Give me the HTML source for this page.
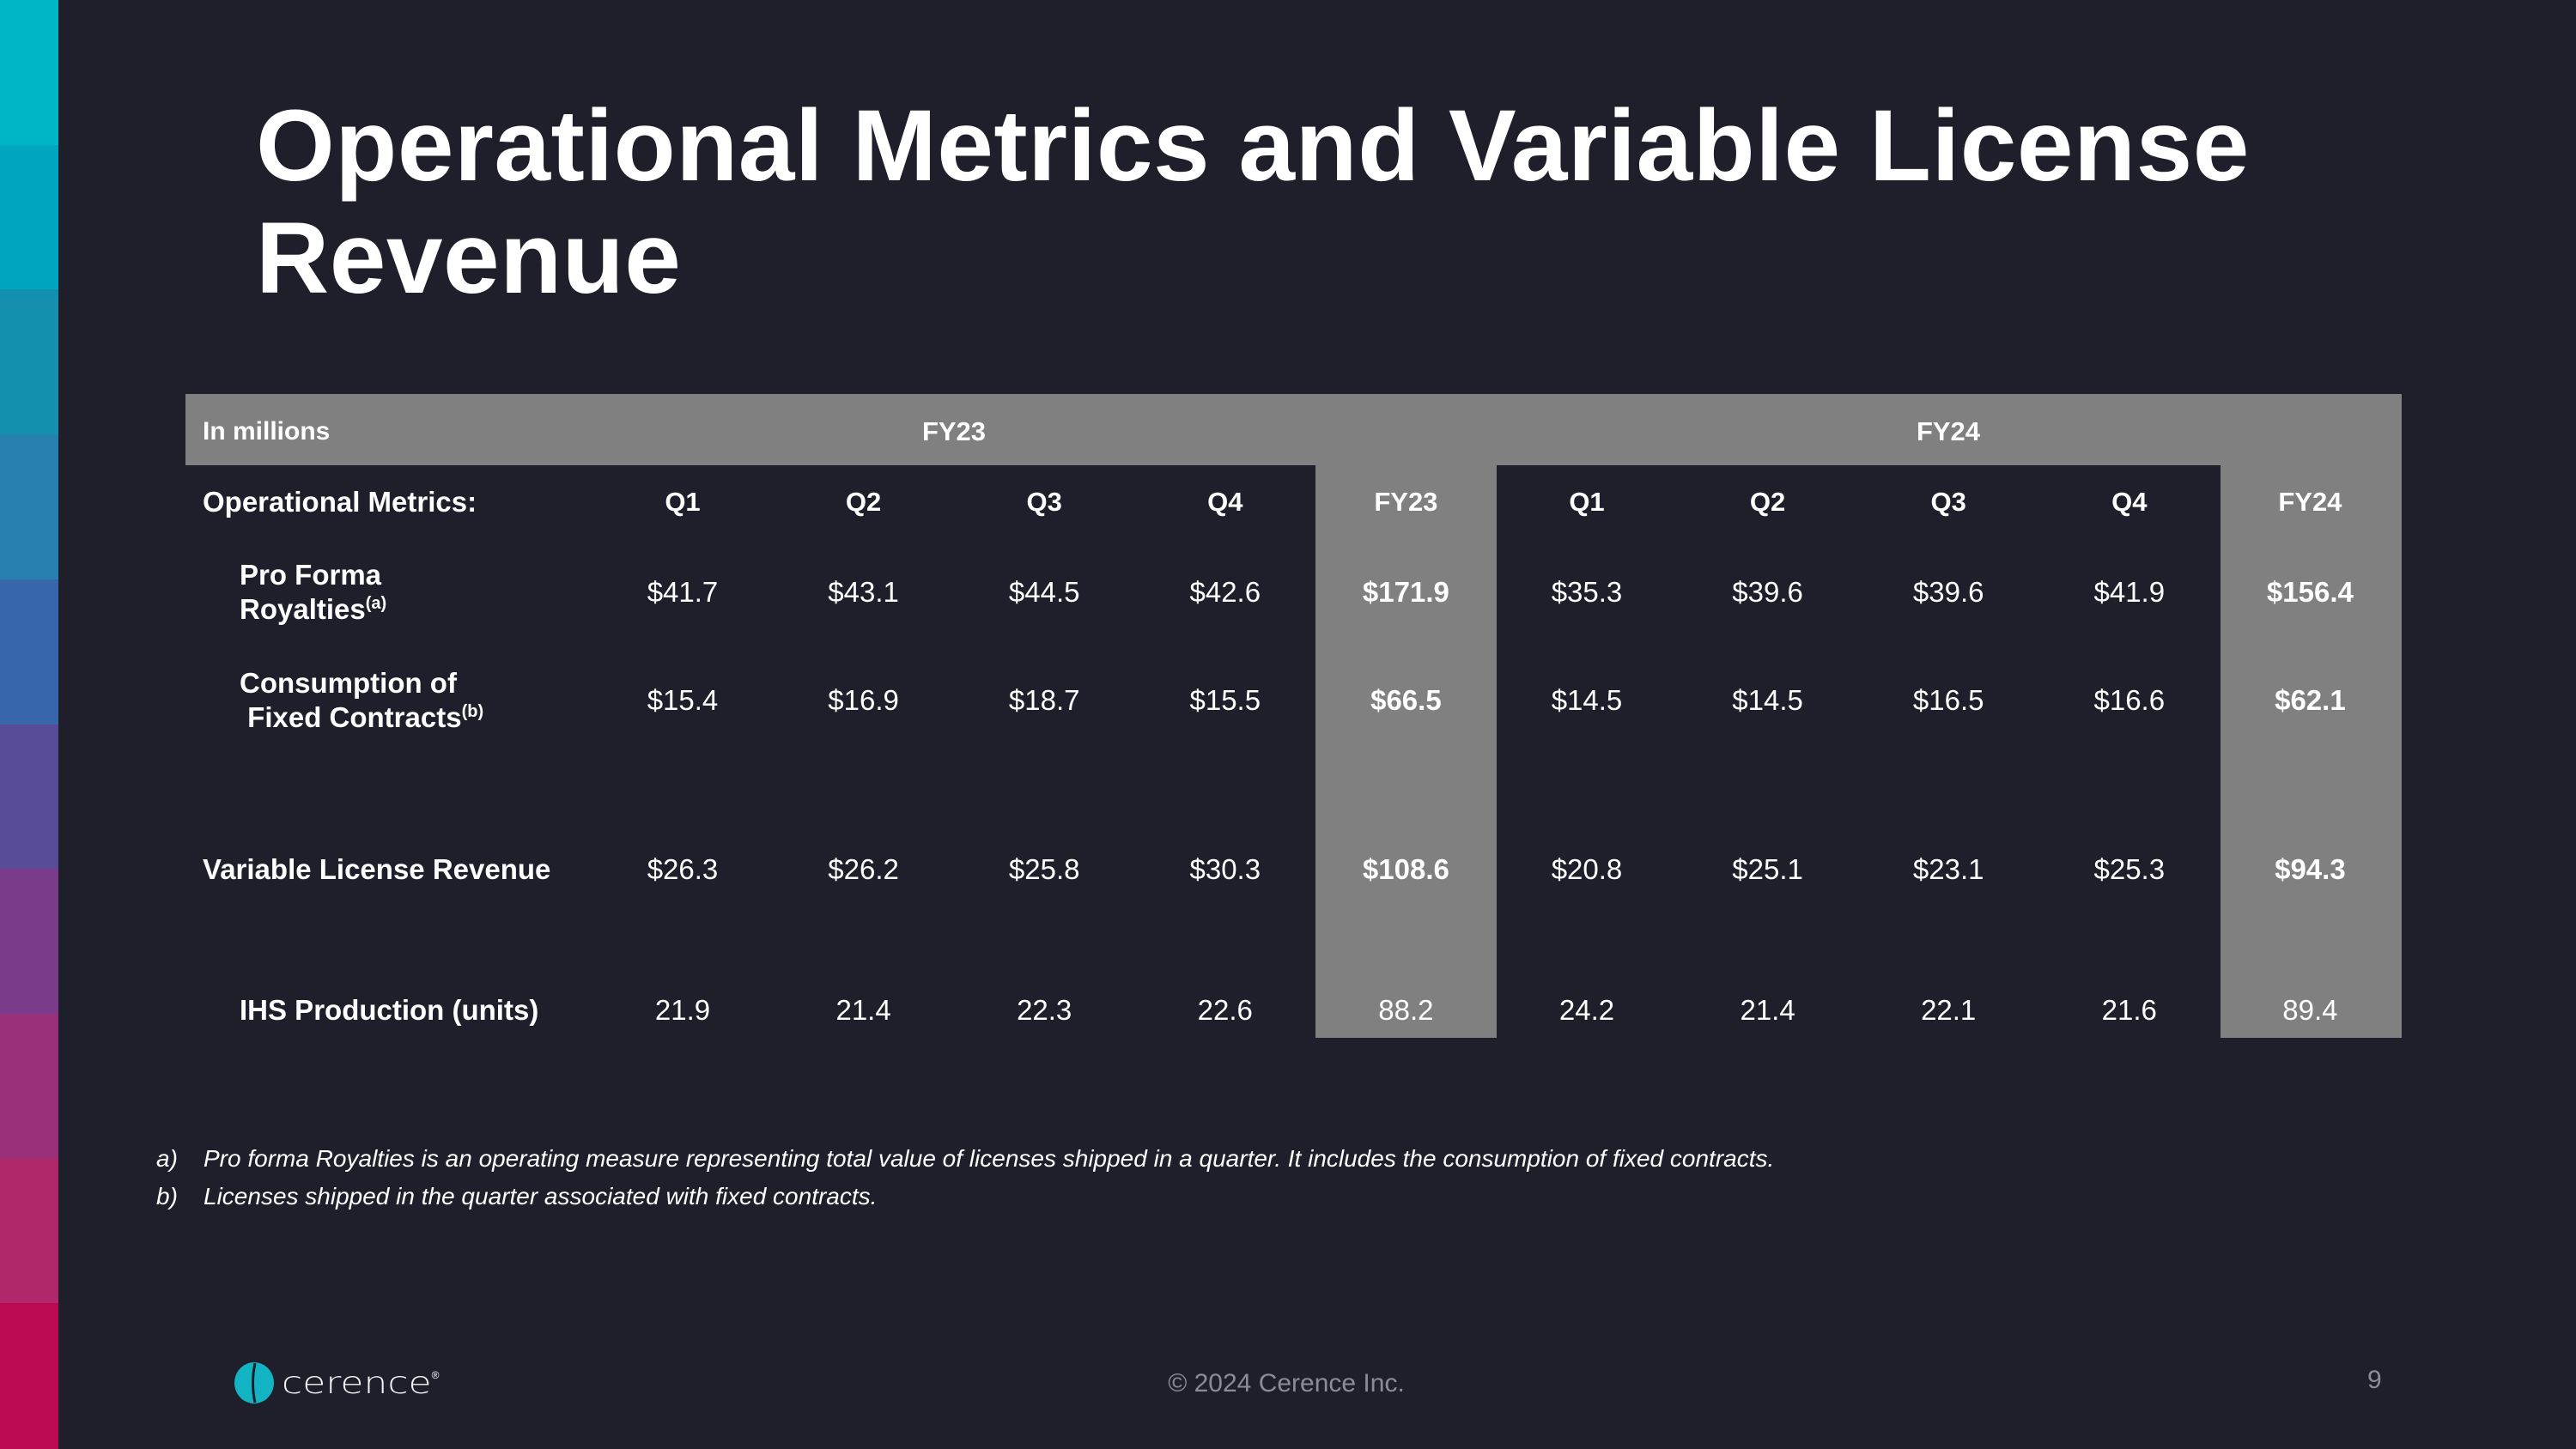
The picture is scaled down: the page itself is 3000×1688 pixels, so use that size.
<!DOCTYPE html>
<html><head><meta charset="utf-8"><style>
*{margin:0;padding:0;box-sizing:border-box}
body{width:3000px;height:1687px;background:#1e1f2a;font-family:"Liberation Sans",Arial,sans-serif;color:#fff;position:relative;overflow:hidden}
.band{position:absolute;left:0;width:68px}
.abs{position:absolute}
#title{left:298px;top:105px;font-size:118px;font-weight:bold;line-height:131px;letter-spacing:0.5px}
.cell{position:absolute;display:flex;align-items:center;justify-content:center;font-size:33px;white-space:nowrap}
.lbl{position:absolute;font-size:33px;font-weight:bold;line-height:40px}
.fn{position:absolute;font-size:28px;font-style:italic}
</style></head><body>
<div id="strip"></div>
<div id="title" class="abs">Operational Metrics and Variable License<br>Revenue</div>
<div class="abs" style="left:216px;top:459px;width:2581px;height:83px;background:#808080"></div>
<div class="abs" style="left:1532px;top:542px;width:211px;height:667px;background:#808080"></div>
<div class="abs" style="left:2586px;top:542px;width:211px;height:667px;background:#808080"></div>
<div class="lbl" style="left:236px;top:483px;font-size:30px">In millions</div>
<div class="cell" style="left:1011px;top:461px;width:200px;height:83px;font-weight:bold;font-size:31px">FY23</div>
<div class="cell" style="left:2169px;top:461px;width:200px;height:83px;font-weight:bold;font-size:31px">FY24</div>
<div class="lbl" style="left:236px;top:565px">Operational Metrics:</div>
<div class="lbl" style="left:279px;top:650px">Pro Forma<br>Royalties<sup style="font-size:20px;line-height:0">(a)</sup></div>
<div class="lbl" style="left:279px;top:776px">Consumption of<br>&nbsp;Fixed Contracts<sup style="font-size:20px;line-height:0">(b)</sup></div>
<div class="lbl" style="left:236px;top:993px">Variable License Revenue</div>
<div class="lbl" style="left:279px;top:1157px">IHS Production (units)</div>
<div id="cells"></div>
<div class="fn" style="left:182px;top:1334px">a)</div>
<div class="fn" style="left:237px;top:1334px">Pro forma Royalties is an operating measure representing total value of licenses shipped in a quarter. It includes the consumption of fixed contracts.</div>
<div class="fn" style="left:182px;top:1378px">b)</div>
<div class="fn" style="left:237px;top:1378px">Licenses shipped in the quarter associated with fixed contracts.</div>
<div class="abs" style="left:272px;top:1587px;height:48px;display:flex;align-items:center">
<svg width="48" height="48" viewBox="0 0 48 48"><ellipse cx="24" cy="24" rx="23" ry="24" fill="#12b3c2"/><path d="M25 1 Q20 24 25 47" stroke="#1e1f2a" stroke-width="3" fill="none"/></svg>
<span style="font-size:44px;font-family:'DejaVu Sans',sans-serif;font-weight:200;margin-left:8px;letter-spacing:0px;transform:scaleY(0.8);display:inline-block;color:#f4f4f4">cerence</span><span style="font-size:12px;align-self:flex-start;margin-top:8px">®</span></div>
<div class="abs" style="left:1298px;top:1595px;width:400px;text-align:center;font-size:30px;color:#8a8d99">© 2024 Cerence Inc.</div>
<div class="abs" style="left:2757px;top:1591px;font-size:30px;color:#8a8d99">9</div>
<script>
const bandColors=["#00b7c5","#00a6c0","#148fae","#2880b0","#3866aa","#584c99","#7a3b8a","#993079","#b0286a","#bb0a50"];
const columns=["Q1","Q2","Q3","Q4","FY23","Q1","Q2","Q3","Q4","FY24"];
const royalties=["$41.7","$43.1","$44.5","$42.6","$171.9","$35.3","$39.6","$39.6","$41.9","$156.4"];
const consumption=["$15.4","$16.9","$18.7","$15.5","$66.5","$14.5","$14.5","$16.5","$16.6","$62.1"];
const vlr=["$26.3","$26.2","$25.8","$30.3","$108.6","$20.8","$25.1","$23.1","$25.3","$94.3"];
const ihs=["21.9","21.4","22.3","22.6","88.2","24.2","21.4","22.1","21.6","89.4"];
const strip=document.getElementById('strip');
bandColors.forEach((c,i)=>{const d=document.createElement('div');d.className='band';


d.style.top=(i*168.7)+'px';d.style.height='170px';d.style.background=c;strip.appendChild(d);});
const rows=[{v:columns,y:585,bold:true,n:'column-header'},{v:royalties,y:690,n:'royalties-value'},{v:consumption,y:816,n:'consumption-value'},{v:vlr,y:1013,n:'vlr-value'},{v:ihs,y:1177,n:'ihs-value'}];
const host=document.getElementById('cells');
rows.forEach((r,ri)=>{r.v.forEach((t,ci)=>{const d=document.createElement('div');d.className='cell';


const cx=795+ci*210.6;d.style.left=(cx-105)+'px';d.style.width='210px';d.style.top=(r.y-25)+'px';d.style.height='50px';
if(r.bold||((ci===4||ci===9)&&ri<4))d.style.fontWeight='bold';
if(r.bold)d.style.fontSize='31px';
d.textContent=t;host.appendChild(d);});});
</script>
</body></html>
